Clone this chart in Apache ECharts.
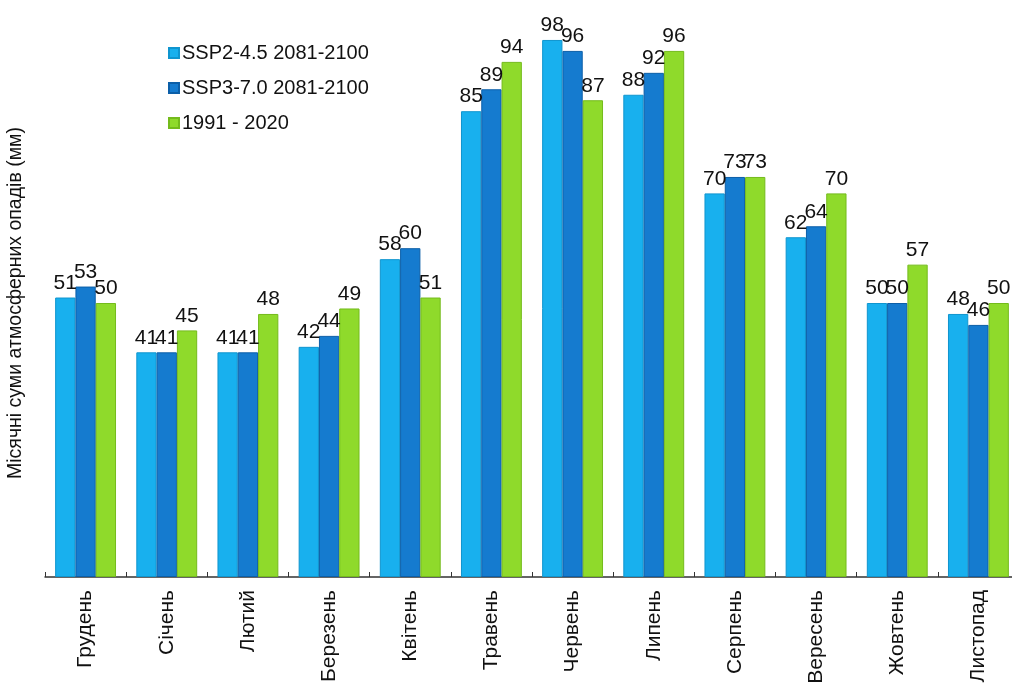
<!DOCTYPE html>
<html>
<head>
<meta charset="utf-8">
<script src="https://cdn.jsdelivr.net/npm/echarts@6/dist/echarts.min.js"></script>
<style>
  html, body { margin: 0; padding: 0; background: #fff; }
  #chart { width: 1012px; height: 684px; }
</style>
</head>
<body>
<div id="chart"></div>
<script>
// Monthly precipitation totals (mm), Dec–Nov
const months = ['Грудень', 'Січень', 'Лютий', 'Березень', 'Квітень', 'Травень',
  'Червень', 'Липень', 'Серпень', 'Вересень', 'Жовтень', 'Листопад'];
const seriesNames = ['SSP2-4.5 2081-2100', 'SSP3-7.0 2081-2100', '1991 - 2020'];
const ssp245 = [51, 41, 41, 42, 58, 85, 98, 88, 70, 62, 50, 48];
const ssp370 = [53, 41, 41, 44, 60, 89, 96, 92, 73, 64, 50, 46];
const base1991 = [50, 45, 48, 49, 51, 94, 87, 96, 73, 70, 57, 50];
const yAxisTitle = 'Місячні суми атмосферних опадів (мм)';

const FONT = '"Liberation Sans", Arial, sans-serif';
const colors = ['#18b0ee', '#157bcf', '#8fda2b'];
const borders = ['#0f95cf', '#0c5fa8', '#74bb1c'];

function makeSeries(name, data, i) {
  return {
    name: name,
    type: 'bar',
    data: data,
    barGap: '0%',
    barCategoryGap: '25%',
    itemStyle: { color: colors[i], borderColor: borders[i], borderWidth: 1 },
    label: {
      show: true,
      position: 'top',
      distance: 4,
      color: '#111',
      fontFamily: FONT,
      fontSize: 21
    }
  };
}

const chart = echarts.init(document.getElementById('chart'));
chart.setOption({
  animation: false,
  color: colors,
  textStyle: { fontFamily: FONT },
  grid: {
    left: 45, right: -7, top: 29, bottom: 107,
    containLabel: false,
    outerBoundsMode: 'none'
  },
  legend: {
    orient: 'vertical',
    left: 163,
    top: 38,
    itemWidth: 10,
    itemHeight: 10,
    itemGap: 15,
    icon: 'rect',
    textStyle: { fontFamily: FONT, fontSize: 20, color: '#111', padding: [0, 0, 0, -2] },
    data: seriesNames
  },
  xAxis: {
    type: 'category',
    data: months,
    axisLine: { show: true, lineStyle: { color: '#333', width: 1.5 } },
    axisTick: { show: true, inside: true, length: 5, lineStyle: { color: '#333' } },
    axisLabel: {
      rotate: 90,
      margin: 13,
      color: '#111',
      fontFamily: FONT,
      fontSize: 21
    }
  },
  yAxis: {
    type: 'value',
    min: 0,
    max: 100,
    name: yAxisTitle,
    nameLocation: 'middle',
    nameGap: 19,
    nameTextStyle: { fontFamily: FONT, fontSize: 19.5, color: '#111' },
    axisLine: { show: false },
    axisTick: { show: false },
    axisLabel: { show: false },
    splitLine: { show: false }
  },
  series: [
    makeSeries(seriesNames[0], ssp245, 0),
    makeSeries(seriesNames[1], ssp370, 1),
    makeSeries(seriesNames[2], base1991, 2)
  ]
});
</script>
</body>
</html>
